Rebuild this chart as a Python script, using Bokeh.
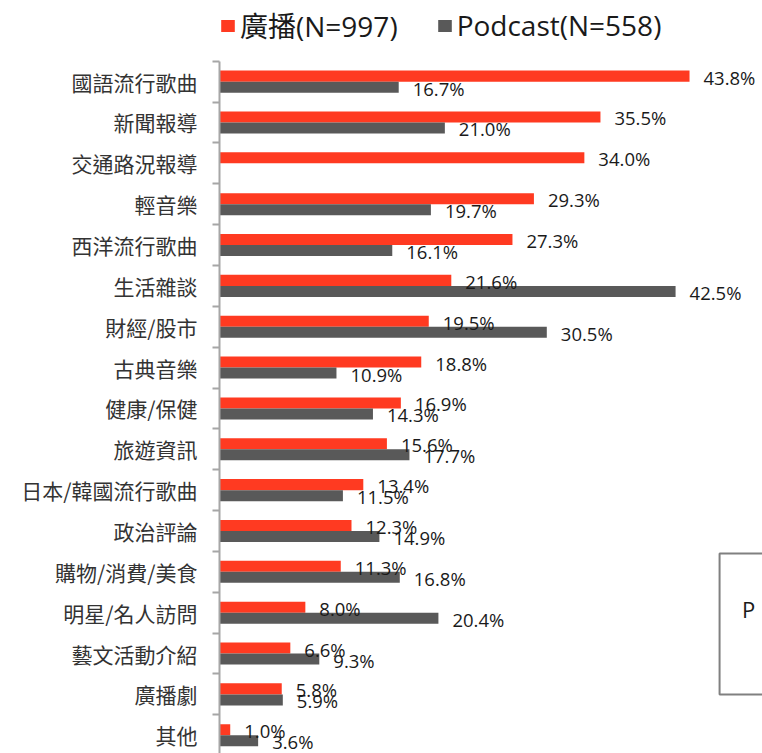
from bokeh.plotting import figure
from bokeh.models import (Range1d, FixedTicker, LinearAxis, Legend, LegendItem,
                          Label, ColumnDataSource)
from bokeh.transform import dodge
from bokeh.core.properties import value
from bokeh.embed import file_html
from bokeh.resources import INLINE

# ---- data ----
categories = ["國語流行歌曲", "新聞報導", "交通路況報導", "輕音樂", "西洋流行歌曲",
              "生活雜談", "財經/股市", "古典音樂", "健康/保健", "旅遊資訊",
              "日本/韓國流行歌曲", "政治評論", "購物/消費/美食", "明星/名人訪問",
              "藝文活動介紹", "廣播劇", "其他"]
radio = [43.8, 35.5, 34.0, 29.3, 27.3, 21.6, 19.5, 18.8, 16.9, 15.6,
         13.4, 12.3, 11.3, 8.0, 6.6, 5.8, 1.0]
podcast = [16.7, 21.0, None, 19.7, 16.1, 42.5, 30.5, 10.9, 14.3, 17.7,
           11.5, 14.9, 16.8, 20.4, 9.3, 5.9, 3.6]
series_names = ["廣播(N=997)", "Podcast(N=558)"]
inset_text = "P"

RED = "#FF3A21"
GRAY = "#595959"
AXIS = "#A6A6A6"
CJK = "Noto Sans CJK TC"
LATIN = "Open Sans, Noto Sans CJK TC"

n = len(categories)
ys = list(range(n))
pod_vals = [float("nan") if v is None else v for v in podcast]

src_r = ColumnDataSource(dict(y=ys, v=radio,
                              lab=[f"{v:.1f}%" for v in radio]))
pod_idx = [i for i, v in enumerate(podcast) if v is not None]
src_p = ColumnDataSource(dict(y=ys, v=pod_vals))
src_pl = ColumnDataSource(dict(y=[ys[i] for i in pod_idx],
                               v=[podcast[i] for i in pod_idx],
                               lab=[f"{podcast[i]:.1f}%" for i in pod_idx]))

p = figure(width=762, height=753, output_backend="svg", toolbar_location=None,
           x_range=Range1d(0, 50.6), y_range=Range1d(16.447, -1.986),
           x_axis_location=None, y_axis_location=None,
           min_border_left=219, min_border_right=0, min_border_top=0,
           min_border_bottom=0)
p.outline_line_color = None
p.xgrid.visible = False
p.ygrid.visible = False
p.background_fill_color = "white"

bh = 0.27
r1 = p.hbar(y=dodge("y", -bh / 2), right="v", left=0, height=bh, source=src_r,
            fill_color=RED, line_color=None)
r2 = p.hbar(y=dodge("y", bh / 2), right="v", left=0, height=bh, source=src_p,
            fill_color=GRAY, line_color=None)

p.text(x="v", y=dodge("y", -bh / 2), text="lab", source=src_r, x_offset=14,
       y_offset=1, text_font=value("Open Sans"), text_font_size="18.5px",
       text_baseline="middle", text_align="left", text_color="#1a1a1a")
p.text(x="v", y=dodge("y", bh / 2), text="lab", source=src_pl, x_offset=14,
       y_offset=1, text_font=value("Open Sans"), text_font_size="18.5px",
       text_baseline="middle", text_align="left", text_color="#1a1a1a")

axis = LinearAxis(
    ticker=FixedTicker(ticks=ys, minor_ticks=[i - 0.5 for i in range(n + 1)]),
    bounds=(-0.5, 16.447),
    major_label_overrides={i: c for i, c in enumerate(categories)},
    major_tick_line_color=None, major_tick_in=0, major_tick_out=0,
    minor_tick_in=0, minor_tick_out=7, minor_tick_line_color=AXIS,
    minor_tick_line_width=2,
    axis_line_color=AXIS, axis_line_width=2,
    major_label_standoff=15,
    major_label_text_font=CJK, major_label_text_font_size="21px",
    major_label_text_color="#333333")
p.add_layout(axis, "left")

legend = Legend(items=[LegendItem(label=series_names[0], renderers=[r1], index=0),
                       LegendItem(label=series_names[1], renderers=[r2], index=0)],
                orientation="horizontal", location=(0, 708),
                glyph_width=17, glyph_height=15, label_standoff=4,
                spacing=38, padding=0, margin=0,
                label_text_font=LATIN, label_text_font_size="28px",
                label_text_color="#1a1a1a",
                border_line_color=None, background_fill_alpha=0)
p.add_layout(legend, "center")

# clipped inset box at the lower right
p.line(x=[53, 46.6, 46.6, 53], y=[11.55, 11.55, 15.0, 15.0],
       line_color="#808080", line_width=2)
p.add_layout(Label(x=48.7, y=12.9, text=inset_text, text_font="Open Sans",
                   text_font_size="22px", text_baseline="middle",
                   text_color="#1a1a1a"))

open("out.html", "w").write(file_html(p, INLINE))
